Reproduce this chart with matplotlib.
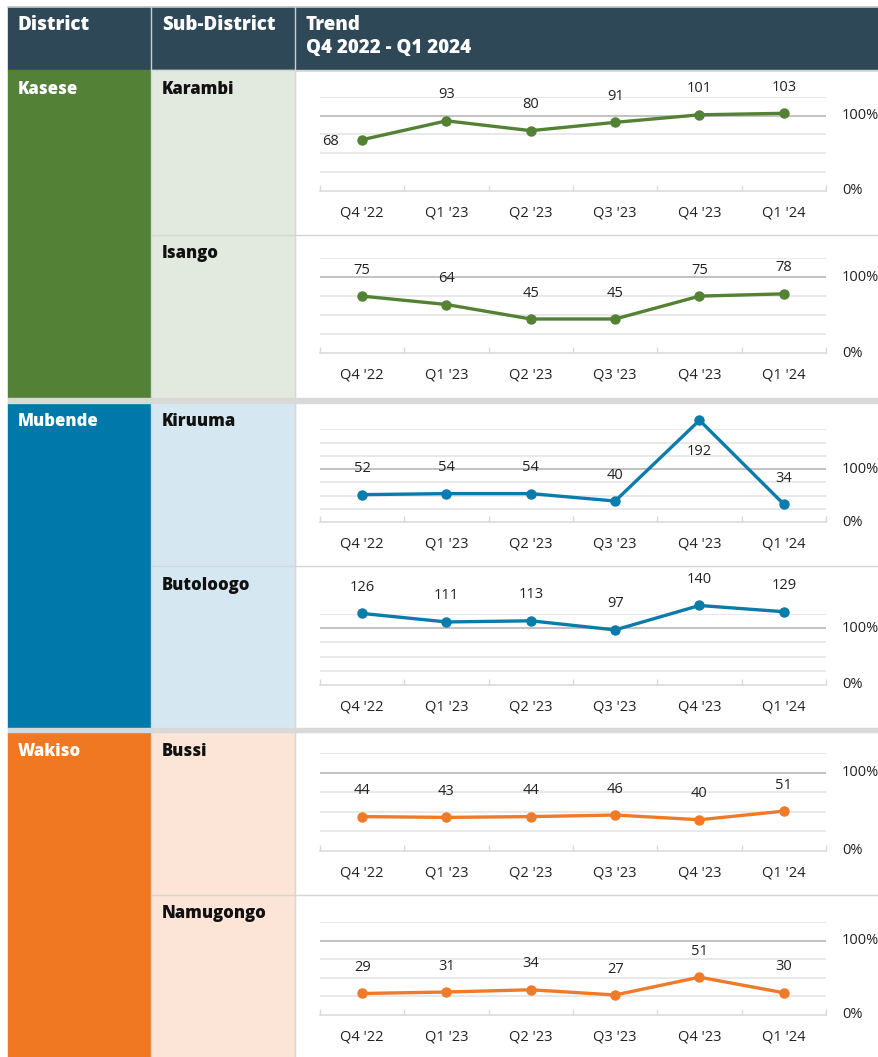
import matplotlib
matplotlib.use("Agg")
import matplotlib.pyplot as plt
from matplotlib.patches import Rectangle

plt.rcParams['font.family'] = ['Open Sans', 'DejaVu Sans']

# ---------------- data ----------------
quarters = ["Q4 '22", "Q1 '23", "Q2 '23", "Q3 '23", "Q4 '23", "Q1 '24"]
districts = ["Kasese", "Mubende", "Wakiso"]
sub_districts = ["Karambi", "Isango", "Kiruuma", "Butoloogo", "Bussi", "Namugongo"]
karambi = [68, 93, 80, 91, 101, 103]
isango = [75, 64, 45, 45, 75, 78]
kiruuma = [52, 54, 54, 40, 192, 34]
butoloogo = [126, 111, 113, 97, 140, 129]
bussi = [44, 43, 44, 46, 40, 51]
namugongo = [29, 31, 34, 27, 51, 30]
series = [karambi, isango, kiruuma, butoloogo, bussi, namugongo]
header_cols = ["District", "Sub-District", "Trend\nQ4 2022 - Q1 2024"]

# ---------------- style / layout ----------------
W, H = 879, 1057
NAVY = "#2f4858"
dist_fill = ["#538135", "#0079aa", "#f07822"]
sub_fill = ["#e2eadf", "#d5e8f2", "#fce4d6"]
line_col = ["#548235", "#0a7caa", "#ef7a2a"]
BORDER = "#d6d6d6"

dist_rows = [(70, 398), (403, 728), (732, 1057)]
sub_rows = [(70, 235), (235, 398), (403, 566), (566, 728), (732, 895), (895, 1057)]
# chart plot geometry: (zero-line px, top gridline px, top gridline value)
chart_geom = [(191, 96.7, 125), (353.3, 258, 125), (522.3, 429.3, 175),
              (685, 614, 125), (851, 753.3, 125), (1015, 922.3, 125)]
PX0, PX1 = 320, 826
label_off = {(0, 0): (-23, -1), (2, 4): (0, -22.5)}

HDR_FS = 13.5
ROW_FS = 12
TXT_FS = 10.5

fig = plt.figure(figsize=(W / 100, H / 100), dpi=100)
bg = fig.add_axes([0, 0, 1, 1])
bg.set_xlim(0, W)
bg.set_ylim(H, 0)
bg.axis("off")

# header
bg.add_patch(Rectangle((8, 7), W - 8, 63, color=NAVY, zorder=1))
bg.plot([8, W], [7, 7], color="#c8c8c8", lw=1.2, zorder=2)
for xv in (151.5, 295.5):
    bg.plot([xv, xv], [7, 70], color="#c9d0d4", lw=1, zorder=2)
hdr_kw = dict(color="white", fontsize=HDR_FS, fontweight="heavy", va="center", ha="left")
bg.text(18, 25, header_cols[0], **hdr_kw)
bg.text(162, 25, header_cols[1], **hdr_kw)
t1, t2 = header_cols[2].split("\n")
bg.text(306, 25, t1, **hdr_kw)
bg.text(306, 48, t2, **hdr_kw)

# body cells
for d, (top, bot) in enumerate(dist_rows):
    bg.add_patch(Rectangle((8, top), 143, bot - top, color=dist_fill[d], zorder=1))
    bg.text(18, top + 19, districts[d], color="white", fontsize=ROW_FS, fontweight="heavy",
            va="center", ha="left", zorder=3)
for s, (top, bot) in enumerate(sub_rows):
    d = s // 2
    bg.add_patch(Rectangle((152, top), 143, bot - top, color=sub_fill[d], zorder=1))
    bg.text(162, top + 19, sub_districts[s], color="#111111", fontsize=ROW_FS, fontweight="heavy",
            va="center", ha="left", zorder=3)
bg.add_patch(Rectangle((8, 398), W - 8, 5, color="#d9d9d9", zorder=2))
bg.add_patch(Rectangle((8, 728), W - 8, 4, color="#d9d9d9", zorder=2))
for yv in (70, 235, 566, 895):
    bg.plot([152, W], [yv, yv], color=BORDER, lw=1, zorder=2)
for xv in (151.5, 295.5):
    for top, bot in dist_rows:
        bg.plot([xv, xv], [top, bot], color=BORDER, lw=1, zorder=2)

# charts
for i, vals in enumerate(series):
    zero_px, top_px, top_val = chart_geom[i]
    col = line_col[i // 2]
    ax = fig.add_axes([PX0 / W, 1 - zero_px / H, (PX1 - PX0) / W, (zero_px - top_px) / H])
    ax.set_facecolor("none")
    ax.set_xlim(-0.5, 5.5)
    ax.set_ylim(0, top_val)
    for g in range(25, top_val + 1, 25):
        if g == 100:
            ax.axhline(g, color="#bdbdbd", lw=1.3, zorder=1)
        else:
            ax.axhline(g, color="#e3e3e3", lw=1.1, zorder=1)
    x = list(range(len(quarters)))
    ax.plot(x, vals, color=col, lw=2.4, marker="o", markersize=6.5, zorder=3, clip_on=False)
    for j, v in enumerate(vals):
        dx, dy = label_off.get((i, j), (0, 18.7))
        ax.annotate(str(v), (j, v), xytext=(dx, dy), textcoords="offset points",
                    ha="center", va="center", fontsize=TXT_FS, color="#222222", zorder=4,
                    annotation_clip=False)
    for sp in ("top", "left", "right"):
        ax.spines[sp].set_visible(False)
    ax.spines["bottom"].set_color("#d9d9d9")
    ax.spines["bottom"].set_linewidth(1.1)
    ax.set_yticks([])
    ax.set_xticks(x)
    ax.set_xticklabels(quarters, fontsize=TXT_FS, color="#222222")
    ax.tick_params(axis="x", which="major", length=0, pad=10.5)
    ax.set_xticks([k - 0.5 for k in range(len(quarters) + 1)], minor=True)
    ax.tick_params(axis="x", which="minor", direction="in", length=4, color="#d9d9d9", width=1)
    ytr = ax.get_yaxis_transform()
    lx = (842 - PX0) / (PX1 - PX0)
    ax.text(lx, 100, "100%", transform=ytr, ha="left", va="center", fontsize=TXT_FS, color="#222222")
    ax.text(lx, 0, "0%", transform=ytr, ha="left", va="center", fontsize=TXT_FS, color="#222222")

fig.savefig("out.png", dpi=100)
